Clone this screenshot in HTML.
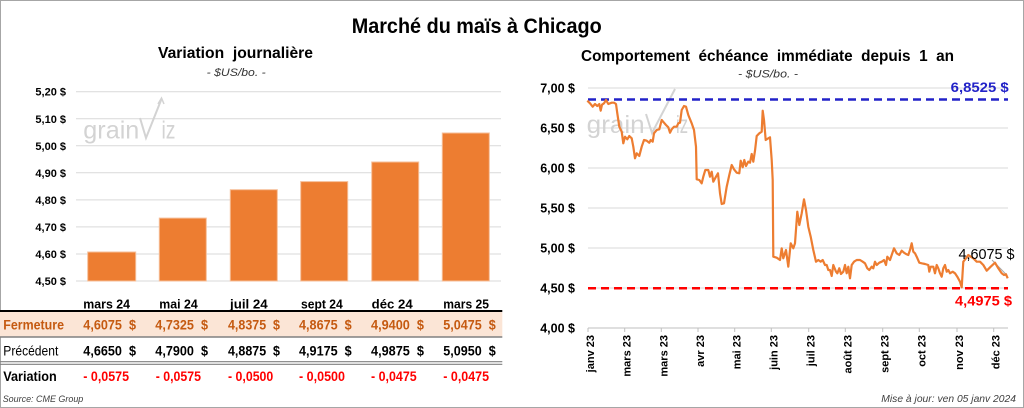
<!DOCTYPE html>
<html><head><meta charset="utf-8"><style>
html,body{margin:0;padding:0;background:#fff;}
svg{display:block;font-family:"Liberation Sans",Arial,sans-serif;}
</style></head><body>
<svg width="1024" height="408" viewBox="0 0 1024 408" xmlns="http://www.w3.org/2000/svg">
<rect x="0" y="0" width="1024" height="408" fill="#fff"/>
<rect x="0.5" y="0.5" width="1023" height="407" fill="none" stroke="#A6A6A6" stroke-width="1"/>

<text x="351.7" y="33" font-size="21" font-weight="bold" textLength="250" lengthAdjust="spacingAndGlyphs">Marché du maïs à Chicago</text>

<text x="158" y="58" font-size="16" font-weight="bold" textLength="155" lengthAdjust="spacingAndGlyphs">Variation&#160; journalière</text>
<text x="206.7" y="76" font-size="11" font-style="italic" fill="#333" textLength="59" lengthAdjust="spacingAndGlyphs">- $US/bo. -</text>

<g stroke="#D9D9D9" stroke-width="1">
<line x1="76" y1="91.7" x2="501" y2="91.7"/>
<line x1="76" y1="118.8" x2="501" y2="118.8"/>
<line x1="76" y1="145.8" x2="501" y2="145.8"/>
<line x1="76" y1="172.8" x2="501" y2="172.8"/>
<line x1="76" y1="199.9" x2="501" y2="199.9"/>
<line x1="76" y1="226.9" x2="501" y2="226.9"/>
<line x1="76" y1="254" x2="501" y2="254"/>
<line x1="76" y1="281" x2="501" y2="281"/>
</g>
<g font-size="11" font-weight="bold" text-anchor="end">
<text x="66" y="95.7">5,20 $</text>
<text x="66" y="122.8">5,10 $</text>
<text x="66" y="149.8">5,00 $</text>
<text x="66" y="176.8">4,90 $</text>
<text x="66" y="203.9">4,80 $</text>
<text x="66" y="230.9">4,70 $</text>
<text x="66" y="258">4,60 $</text>
<text x="66" y="285">4,50 $</text>
</g>

<g fill="#D3D3D3" stroke="none">
<text x="83.3" y="138.5" font-size="25" textLength="56" lengthAdjust="spacingAndGlyphs">grain</text>
<text x="161.5" y="138.5" font-size="25" textLength="14" lengthAdjust="spacingAndGlyphs">iz</text>
</g>
<polyline points="140,118 146,138 161.5,99" fill="none" stroke="#D3D3D3" stroke-width="2"/>
<polyline points="158,104 161.5,98 164,104" fill="none" stroke="#D3D3D3" stroke-width="1.5"/>

<g fill="#ED7D31" stroke="#F6BE98" stroke-width="1">
<rect x="87.7" y="252" width="48" height="29"/>
<rect x="159.3" y="218.1" width="47" height="62.9"/>
<rect x="230.3" y="189.7" width="47" height="91.3"/>
<rect x="300.7" y="181.6" width="47" height="99.4"/>
<rect x="371.7" y="162" width="47" height="119"/>
<rect x="442.3" y="133" width="47" height="148"/>
</g>

<g font-size="13" font-weight="bold">
<text x="83.3" y="308.5" textLength="46.7" lengthAdjust="spacingAndGlyphs">mars 24</text>
<text x="159.3" y="308.5" textLength="38.4" lengthAdjust="spacingAndGlyphs">mai 24</text>
<text x="230" y="308.5" textLength="37.7" lengthAdjust="spacingAndGlyphs">juil 24</text>
<text x="301" y="308.5" textLength="41.7" lengthAdjust="spacingAndGlyphs">sept 24</text>
<text x="371.7" y="308.5" textLength="41" lengthAdjust="spacingAndGlyphs">déc 24</text>
<text x="443.3" y="308.5" textLength="45.7" lengthAdjust="spacingAndGlyphs">mars 25</text>
</g>

<rect x="0" y="312" width="502.3" height="24.5" fill="#FBE5D6"/>
<line x1="0" y1="311" x2="502.3" y2="311" stroke="#000" stroke-width="2"/>
<line x1="0" y1="337" x2="502.3" y2="337" stroke="#808080" stroke-width="1.5"/>
<line x1="0" y1="361.7" x2="502.3" y2="361.7" stroke="#808080" stroke-width="1.2"/>
<line x1="0" y1="364.3" x2="502.3" y2="364.3" stroke="#808080" stroke-width="1.2"/>

<g font-size="13.5" font-weight="bold" fill="#C55A11">
<text x="3.3" y="329.5" textLength="60.7" lengthAdjust="spacingAndGlyphs">Fermeture</text>
<text x="83.3" y="329.5" textLength="52.7" lengthAdjust="spacingAndGlyphs">4,6075&#160;&#160;$</text>
<text x="155.3" y="329.5" textLength="52.7" lengthAdjust="spacingAndGlyphs">4,7325&#160;&#160;$</text>
<text x="228" y="329.5" textLength="52" lengthAdjust="spacingAndGlyphs">4,8375&#160;&#160;$</text>
<text x="299" y="329.5" textLength="52.7" lengthAdjust="spacingAndGlyphs">4,8675&#160;&#160;$</text>
<text x="371" y="329.5" textLength="53" lengthAdjust="spacingAndGlyphs">4,9400&#160;&#160;$</text>
<text x="443.3" y="329.5" textLength="52.4" lengthAdjust="spacingAndGlyphs">5,0475&#160;&#160;$</text>
</g>
<text x="3.3" y="355.5" font-size="13.5" textLength="55" lengthAdjust="spacingAndGlyphs">Précédent</text>
<g font-size="13.5" font-weight="bold">
<text x="83.3" y="355.5" textLength="52.7" lengthAdjust="spacingAndGlyphs">4,6650&#160;&#160;$</text>
<text x="155.3" y="355.5" textLength="52.7" lengthAdjust="spacingAndGlyphs">4,7900&#160;&#160;$</text>
<text x="228" y="355.5" textLength="52" lengthAdjust="spacingAndGlyphs">4,8875&#160;&#160;$</text>
<text x="299" y="355.5" textLength="52.7" lengthAdjust="spacingAndGlyphs">4,9175&#160;&#160;$</text>
<text x="371" y="355.5" textLength="53" lengthAdjust="spacingAndGlyphs">4,9875&#160;&#160;$</text>
<text x="443.3" y="355.5" textLength="52.4" lengthAdjust="spacingAndGlyphs">5,0950&#160;&#160;$</text>
<text x="3.3" y="381" textLength="53.4" lengthAdjust="spacingAndGlyphs">Variation</text>
</g>
<g font-size="13.5" font-weight="bold" fill="#FF0000">
<text x="83.3" y="381" textLength="45.7" lengthAdjust="spacingAndGlyphs">- 0,0575</text>
<text x="155.7" y="381" textLength="45.3" lengthAdjust="spacingAndGlyphs">- 0,0575</text>
<text x="228" y="381" textLength="45.3" lengthAdjust="spacingAndGlyphs">- 0,0500</text>
<text x="299" y="381" textLength="46" lengthAdjust="spacingAndGlyphs">- 0,0500</text>
<text x="371" y="381" textLength="45.7" lengthAdjust="spacingAndGlyphs">- 0,0475</text>
<text x="443.3" y="381" textLength="45.7" lengthAdjust="spacingAndGlyphs">- 0,0475</text>
</g>
<text x="2.7" y="402" font-size="9.5" font-style="italic" fill="#404040" textLength="80.6" lengthAdjust="spacingAndGlyphs">Source: CME Group</text>

<text x="581" y="61" font-size="16" font-weight="bold" textLength="373" lengthAdjust="spacingAndGlyphs">Comportement&#160; échéance&#160; immédiate&#160; depuis&#160; 1&#160; an</text>
<text x="738" y="77.3" font-size="11" font-style="italic" fill="#333" textLength="60" lengthAdjust="spacingAndGlyphs">- $US/bo. -</text>

<g stroke="#D9D9D9" stroke-width="1">
<line x1="588" y1="88" x2="1008" y2="88"/>
<line x1="588" y1="128" x2="1008" y2="128"/>
<line x1="588" y1="168" x2="1008" y2="168"/>
<line x1="588" y1="208" x2="1008" y2="208"/>
<line x1="588" y1="248" x2="1008" y2="248"/>
<line x1="588" y1="288" x2="1008" y2="288"/>
</g>
<line x1="588" y1="328" x2="1008" y2="328" stroke="#BFBFBF" stroke-width="1"/>
<g stroke="#BFBFBF" stroke-width="1">
<line x1="588" y1="328" x2="588" y2="332"/>
<line x1="624.7" y1="328" x2="624.7" y2="332"/>
<line x1="661.3" y1="328" x2="661.3" y2="332"/>
<line x1="698" y1="328" x2="698" y2="332"/>
<line x1="734.7" y1="328" x2="734.7" y2="332"/>
<line x1="771.3" y1="328" x2="771.3" y2="332"/>
<line x1="808.7" y1="328" x2="808.7" y2="332"/>
<line x1="845.3" y1="328" x2="845.3" y2="332"/>
<line x1="882.7" y1="328" x2="882.7" y2="332"/>
<line x1="919.3" y1="328" x2="919.3" y2="332"/>
<line x1="957" y1="328" x2="957" y2="332"/>
<line x1="993.7" y1="328" x2="993.7" y2="332"/>
</g>

<g font-size="12.5" font-weight="bold" text-anchor="end">
<text x="575" y="92.5">7,00 $</text>
<text x="575" y="132.5">6,50 $</text>
<text x="575" y="172.5">6,00 $</text>
<text x="575" y="212.5">5,50 $</text>
<text x="575" y="252.5">5,00 $</text>
<text x="575" y="292.5">4,50 $</text>
<text x="575" y="332.5">4,00 $</text>
</g>

<g font-size="11" font-weight="bold" text-anchor="end">
<text transform="translate(594,335) rotate(-90)">janv 23</text>
<text transform="translate(630.7,335) rotate(-90)">mars 23</text>
<text transform="translate(667.3,335) rotate(-90)">mars 23</text>
<text transform="translate(704,335) rotate(-90)">avr 23</text>
<text transform="translate(740.7,335) rotate(-90)">mai 23</text>
<text transform="translate(777.3,335) rotate(-90)">juin 23</text>
<text transform="translate(814.7,335) rotate(-90)">juil 23</text>
<text transform="translate(851.3,335) rotate(-90)">août 23</text>
<text transform="translate(888.7,335) rotate(-90)">sept 23</text>
<text transform="translate(925.3,335) rotate(-90)">oct 23</text>
<text transform="translate(963,335) rotate(-90)">nov 23</text>
<text transform="translate(999.7,335) rotate(-90)">déc 23</text>
</g>

<g fill="#D3D3D3">
<text x="586.7" y="133" font-size="25" textLength="58" lengthAdjust="spacingAndGlyphs">grain</text>
<text x="676" y="133" font-size="25" textLength="12" lengthAdjust="spacingAndGlyphs">iz</text>
</g>
<polyline points="646,114 652,133 675,89" fill="none" stroke="#D3D3D3" stroke-width="2"/>

<line x1="588" y1="99.5" x2="1008" y2="99.5" stroke="#2222C8" stroke-width="2.5" stroke-dasharray="8,5"/>
<line x1="588" y1="288.2" x2="1008" y2="288.2" stroke="#FF0000" stroke-width="2.5" stroke-dasharray="8,5"/>

<line x1="992" y1="260" x2="1006.7" y2="275" stroke="#A6A6A6" stroke-width="1"/>

<polyline fill="none" stroke="#ED7D31" stroke-width="2.2" stroke-linejoin="round" points="587.3,100.7 590,103.3 592.7,106.7 595,104 597.3,106 599.3,104 600.7,110.7 602,104.7 604,103.3 606,100 608.3,104 611.7,102.7 614,102.7 616,104 617.3,113.3 619.3,126.7 621.7,131.7 623.3,143.3 625,136.7 627.3,139.3 629.3,136 631.7,138.3 633.3,146.7 635,158.3 636.7,153.3 639.3,156 641.7,146.7 644,140 646.7,140.7 649.3,142.7 650.7,140 652.7,141.7 654,133.3 656.7,130 659.3,129.3 661.7,120 664,122.7 666,125 668.3,127.3 670,132.7 671.7,129.3 674,126.7 676.7,126.7 678.3,123.3 680,122.7 681.7,110 684,106 686,106.7 688.3,115 691.7,123.3 694,130 696,146.7 696.7,179.3 699.3,180 701.7,183.3 703.3,176.7 705.3,170 708.3,170 710,176.7 711.7,171.7 713.3,181.7 716,176.7 718,173.3 720,193.3 721.7,204 724,203.3 726.7,186.7 729.3,175 731.7,165 734,169.3 736.7,172.7 739.3,173.3 740.7,160.7 742.7,167.3 744.3,160 746,166 748.3,161.7 750,162.7 751.7,154 753.3,161.7 755,150.7 756.7,136 759.3,133.3 761.7,131.7 762.7,110.7 764,120 765.7,140 768.3,138.3 770,137.3 771.7,160 772.7,180 773.3,256.7 776.7,257.7 780,260 781.7,248.3 783.3,258.3 786,250 788.3,266.7 790.7,243.3 793.3,248.3 795,243.3 797.3,211.7 799.3,225 801.7,213.3 804,199.3 806,210 808.3,226.7 810.7,236.7 813.3,250 816,261.7 818.3,260 820.7,261.7 822.7,260 825,265 826.7,265 828.3,270 830,270 831.7,276 833.3,265 836,271.7 837.3,273.3 839.3,268.3 841,274 843.3,271.7 845,265 846.7,273.3 848.3,266.7 850,278.3 851.7,265 854,261.7 856.7,260 860,260 862.7,261.7 865,263.3 867.3,268.3 869.3,270 871.7,266.7 873.3,268.3 875,261.7 876.7,265 879.3,262.7 881.7,261.7 884,260 886,265 887.3,256.7 890,260 891.7,255 894,248.3 896.7,253.3 899.3,255 901.7,250.7 904,252.7 906,254 908.3,255 910,250 911.7,243.3 913.3,251.7 915,253.3 916.7,256.7 919.3,262.7 921.7,263.3 925,264 928.3,265 929.3,271.7 930.7,266.7 933.3,266.7 935,273.3 936.7,265 938.3,268.3 940,273.3 941.7,276.7 943.3,268.3 945,265 946.7,271.7 948.3,270 950,273.3 952.7,271.7 955,273.3 957.3,276.7 960,281.7 961.7,287.3 963.3,261.7 966,258.3 968.3,255 970.7,256.7 973.3,258.3 976.7,261.7 980,261.7 983.3,265 986.7,270.7 990.7,266.7 995,262.7 998.3,268.3 1001.7,273.3 1004,275 1006,274.3 1007.7,278.3"/>

<text x="950.7" y="92" font-size="14" font-weight="bold" fill="#2222C8" textLength="58" lengthAdjust="spacingAndGlyphs">6,8525 $</text>
<text x="958.5" y="259" font-size="15" fill="#000" textLength="56" lengthAdjust="spacingAndGlyphs">4,6075 $</text>
<text x="955" y="305.5" font-size="14" font-weight="bold" fill="#FF0000" textLength="57" lengthAdjust="spacingAndGlyphs">4,4975 $</text>

<text x="881.3" y="402" font-size="10" font-style="italic" fill="#404040" textLength="134.7" lengthAdjust="spacingAndGlyphs">Mise à jour: ven 05 janv 2024</text>
</svg>
</body></html>
